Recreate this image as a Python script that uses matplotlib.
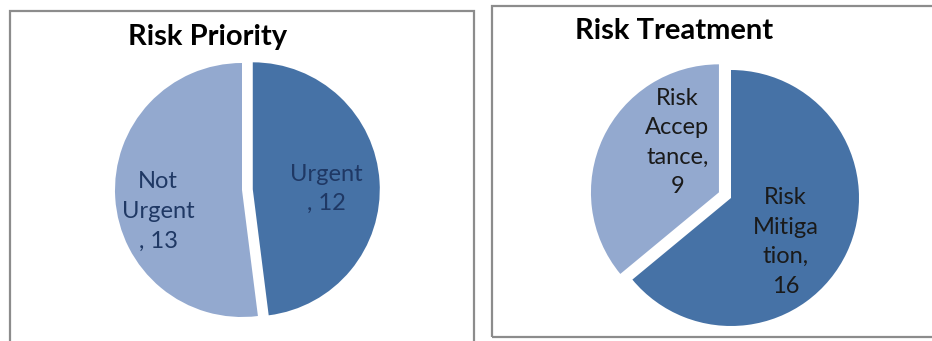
import matplotlib
matplotlib.use("Agg")
import matplotlib.pyplot as plt
from matplotlib.patches import Rectangle
from matplotlib.transforms import offset_copy

# data
priority_labels = ['Urgent\n, 12', 'Not\nUrgent\n, 13']
priority_values = [12, 13]
treatment_labels = ['Risk\nMitiga\ntion,\n16', 'Risk\nAccep\ntance,\n9']
treatment_values = [16, 9]

dark_blue = '#4672A6'
light_blue = '#93A9CF'

plt.rcParams['font.family'] = ['Lato', 'DejaVu Sans']

W, H = 932, 341
fig = plt.figure(figsize=(W / 100, H / 100), dpi=100)


def px_axes(cx, cy, r):
    # axes box around a pie of radius r (pixels), centre given from top-left
    return fig.add_axes([(cx - r) / W, (H - cy - r) / H, 2 * r / W, 2 * r / H])


def nudge(ax, txt, dx, dy):
    # shift a pie label a few pixels, like excel's own placement
    txt.set_transform(offset_copy(ax.transData, fig=fig, x=dx, y=dy, units='dots'))


# panel frames
fig.add_artist(Rectangle((10 / W, -0.05), (474 - 10) / W, 1.05 - 11 / H,
                         transform=fig.transFigure, fill=False,
                         edgecolor='#8c8c8c', linewidth=1.6))
fig.add_artist(Rectangle((492 / W, 4 / H), 0.5, (337 - 6) / H,
                         transform=fig.transFigure, fill=False,
                         edgecolor='#8c8c8c', linewidth=1.6))

# left pie
ax1 = px_axes(242, 190, 127)
_, t1 = ax1.pie(priority_values, labels=priority_labels, colors=[dark_blue, light_blue],
                explode=[0.085, 0], startangle=90, counterclock=False,
                labeldistance=0.55,
                textprops=dict(color='#1F3864', fontsize=17, ha='center', va='center',
                               linespacing=1.5))
nudge(ax1, t1[0], 4, -4)
nudge(ax1, t1[1], -14, -17)
ax1.set_xlim(-1, 1)
ax1.set_ylim(-1, 1)
ax1.set_aspect('equal')
fig.text(208 / W, 1 - 37 / H, 'Risk Priority', fontsize=21, fontweight='bold',
         ha='center', va='center', color='black')

# right pie
ax2 = px_axes(731, 198, 128)
_, t2 = ax2.pie(treatment_values, labels=treatment_labels, colors=[dark_blue, light_blue],
                explode=[0, 0.104], startangle=90, counterclock=False,
                labeldistance=0.55,
                textprops=dict(color='#1a1a1a', fontsize=17, ha='center', va='center',
                               linespacing=1.5))
nudge(ax2, t2[0], -9, -14)
nudge(ax2, t2[1], 22, 20)
ax2.set_xlim(-1, 1)
ax2.set_ylim(-1, 1)
ax2.set_aspect('equal')
fig.text(674 / W, 1 - 31 / H, 'Risk Treatment', fontsize=21, fontweight='bold',
         ha='center', va='center', color='black')

fig.savefig('out.png', dpi=100)
